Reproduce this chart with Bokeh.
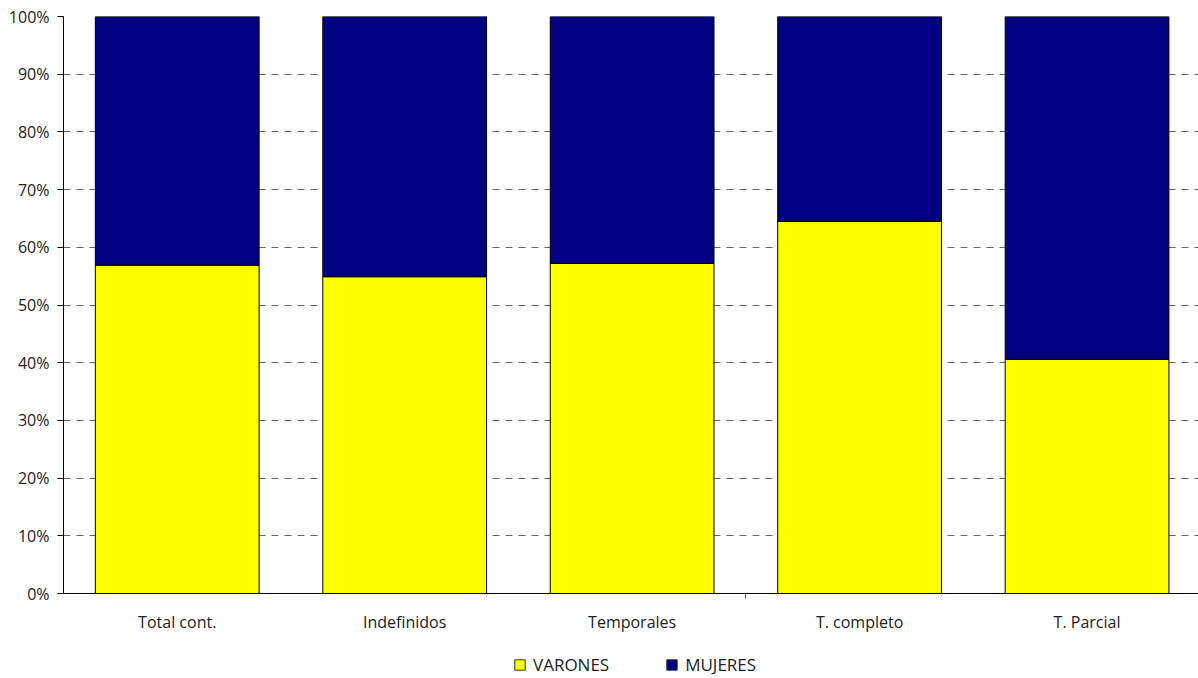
from bokeh.plotting import figure
from bokeh.layouts import column
from bokeh.models import (ColumnDataSource, FixedTicker, Range1d, Legend, LegendItem,
                          PrintfTickFormatter)
from bokeh.embed import file_html
from bokeh.resources import INLINE

categories = ["Total cont.", "Indefinidos", "Temporales", "T. completo", "T. Parcial"]
varones = [56.9, 54.9, 57.2, 64.5, 40.6]
mujeres = [43.1, 45.1, 42.8, 35.5, 59.4]
y_ticks = [0, 10, 20, 30, 40, 50, 60, 70, 80, 90, 100]
series_names = ["VARONES", "MUJERES"]
series_colors = ["#FFFF00", "#000080"]

xs = [i + 0.5 for i in range(len(categories))]
tops_v = varones
tops_m = [v + m for v, m in zip(varones, mujeres)]
src = ColumnDataSource(dict(x=xs, v=tops_v, m=tops_m, base=[0] * len(xs)))

FONT = "Open Sans"

p = figure(frame_width=1135, frame_height=577, output_backend="svg", toolbar_location=None,
           x_range=Range1d(0, 4.99), y_range=Range1d(0, 100),
           min_border_left=63, min_border_top=16, min_border_right=0, min_border_bottom=56)
p.outline_line_color = None
p.background_fill_color = "white"

p.vbar(x="x", width=0.72, bottom="base", top="v", source=src,
       fill_color=series_colors[0], line_color="black", line_width=1)
p.vbar(x="x", width=0.72, bottom="v", top="m", source=src,
       fill_color=series_colors[1], line_color="black", line_width=1)

# x axis
p.xaxis.ticker = FixedTicker(ticks=xs, minor_ticks=[3])
p.xaxis.major_label_overrides = {x: c for x, c in zip(xs, categories)}
p.xaxis.major_tick_line_color = None
p.xaxis.minor_tick_in = 0
p.xaxis.minor_tick_out = 5
p.xaxis.minor_tick_line_color = "#555555"
p.xaxis.axis_line_color = "black"
p.xaxis.major_label_text_font = FONT
p.xaxis.major_label_text_font_size = "16px"
p.xaxis.major_label_text_color = "#222222"
p.xaxis.major_label_standoff = 11

# y axis
p.yaxis.ticker = FixedTicker(ticks=y_ticks)
p.yaxis.formatter = PrintfTickFormatter(format="%d%%")
p.yaxis.major_tick_in = 0
p.yaxis.major_tick_out = 6
p.yaxis.minor_tick_line_color = None
p.yaxis.axis_line_color = "black"
p.yaxis.major_label_text_font = FONT
p.yaxis.major_label_text_font_size = "16px"
p.yaxis.major_label_text_color = "#222222"
p.yaxis.major_label_standoff = 8

p.xgrid.grid_line_color = None
p.ygrid.grid_line_color = "#666666"
p.ygrid.grid_line_dash = "7 6"
p.ygrid.grid_line_width = 1

# legend strip below the chart
p2 = figure(width=1198, height=28, output_backend="svg", toolbar_location=None,
            x_range=Range1d(100, 101), y_range=Range1d(100, 101),
            x_axis_type=None, y_axis_type=None,
            min_border_left=0, min_border_right=0, min_border_top=0, min_border_bottom=0)
p2.outline_line_color = None
p2.grid.grid_line_color = None
lr_v = p2.vbar(x="x", width=0.72, bottom="base", top="v", source=src,
               fill_color=series_colors[0], line_color="#333333", line_width=1)
lr_m = p2.vbar(x="x", width=0.72, bottom="v", top="m", source=src,
               fill_color=series_colors[1], line_color="#333333", line_width=1)
legend = Legend(items=[LegendItem(label=series_names[0], renderers=[lr_v]),
                       LegendItem(label=series_names[1], renderers=[lr_m])],
                orientation="horizontal", location=(450, 1),
                label_text_font=FONT, label_text_font_size="17px",
                label_text_color="#222222",
                glyph_width=13, glyph_height=13, spacing=56, label_standoff=7,
                border_line_color=None, background_fill_alpha=0,
                margin=0, padding=0)
p2.add_layout(legend, "center")

layout = column(p, p2, spacing=0)
open("out.html", "w").write(file_html(layout, INLINE))
